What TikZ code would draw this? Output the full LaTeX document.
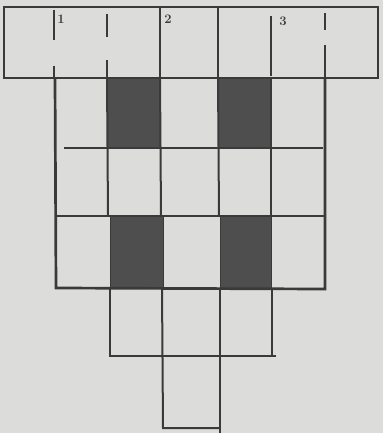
\documentclass[tikz,border=0pt]{standalone}
\definecolor{bg}{HTML}{DCDCDA}
\definecolor{ln}{HTML}{3A3A3A}
\definecolor{dk}{HTML}{4E4E4E}
\begin{document}
\begin{tikzpicture}[x=1pt,y=-1pt,
  grid/.style={draw=ln,line width=2.7pt},
  thin/.style={draw=ln,line width=2pt},
  dark/.style={fill=dk,draw=ln,line width=1pt},
  lbl/.style={font=\bfseries\fontsize{13}{13}\selectfont,text=ln,inner sep=0pt}]
\fill[bg] (0,0) rectangle (383,433);
\useasboundingbox (0,0) rectangle (383,433);
% dark squares
\path[dark] (107,78) rectangle (160,148);
\path[dark] (218,78) rectangle (271,148);
\path[dark] (110,216) rectangle (163,288);
\path[dark] (220,216) rectangle (271,288);
% top row
\draw[grid] (4,7) rectangle (378,78);
\draw[thin] (54,10) -- (54,40);
\draw[thin] (54,66) -- (54,78);
\draw[thin] (107,14) -- (107,37);
\draw[thin] (107,60) -- (107,78);
\draw[grid] (160,7) -- (160,78);
\draw[grid] (218,7) -- (218,78);
\draw[thin] (271,16) -- (271,76);
\draw[thin] (325,13) -- (325,30);
\draw[thin] (325,45) -- (325,78);
\node[lbl] (l1) at (61,19) {1};
\node[lbl] (l2) at (168,19) {2};
\node[lbl] (l3) at (283,21) {3};
% middle block
\draw[grid] (55,78) -- (56,288) -- (325,289) -- (325,78);
\draw[grid] (64,148) -- (323,148);
\draw[grid] (57,216) -- (325,216);
\draw[thin] (107,78) -- (108,216);
\draw[thin] (160,78) -- (161,216);
\draw[thin] (218,78) -- (219,216);
\draw[thin] (271,78) -- (271,216);
% lower rows
\draw[grid] (110,288) -- (110,356) -- (276,356);
\draw[thin] (272,288) -- (272,356);
\draw[thin] (162,288) -- (163,428) -- (220,428);
\draw[grid] (220,288) -- (220,433);
\end{tikzpicture}
\end{document}
